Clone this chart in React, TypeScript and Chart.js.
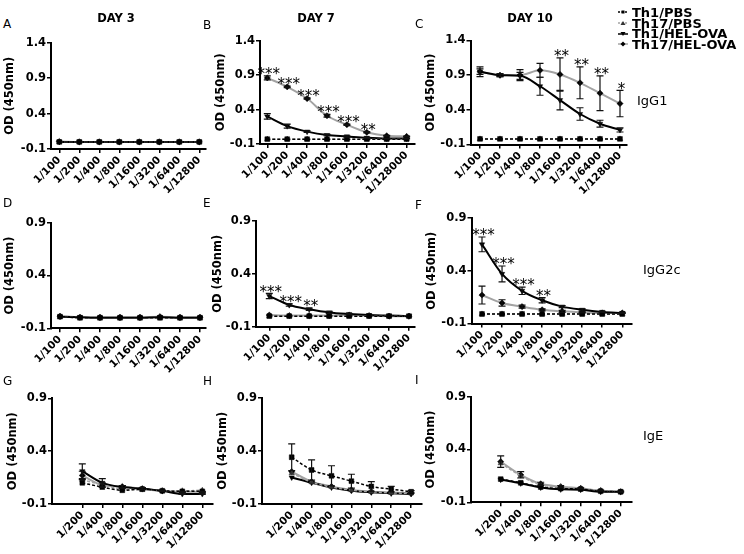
import React, { useEffect, useRef } from 'react';
import { Chart, registerables } from 'chart.js';
Chart.register(...registerables);

const FONT = '"DejaVu Sans", Verdana, sans-serif';

// ---- labels ----
const dilutions = ['1/100', '1/200', '1/400', '1/800', '1/1600', '1/3200', '1/6400', '1/12800'];
const dilutionsB = ['1/100', '1/200', '1/400', '1/800', '1/1600', '1/3200', '1/6400', '1/128000'];
const dilutionsIgE = ['1/200', '1/400', '1/800', '1/1600', '1/3200', '1/6400', '1/12800'];
const yTicksIgG1 = [-0.1, 0.4, 0.9, 1.4];
const yTicksOther = [-0.1, 0.4, 0.9];
const seriesNames = ['Th1/PBS', 'Th17/PBS', 'Th1/HEL-OVA', 'Th17/HEL-OVA'];
const dayTitles = ['DAY 3', 'DAY 7', 'DAY 10'];
const rowLabels = ['IgG1', 'IgG2c', 'IgE'];
const yTitle = 'OD (450nm)';

// ---- A: IgG1 day 3 ----
const aTh1PBS = [0.0, 0.0, 0.0, 0.0, 0.0, 0.0, 0.0, 0.0];
const aTh17PBS = [0.0, 0.0, 0.0, 0.0, 0.0, 0.0, 0.0, 0.0];
const aTh1HEL = [0.0, 0.0, 0.0, 0.0, 0.0, 0.0, 0.0, 0.0];
const aTh17HEL = [0.005, 0.0, 0.0, 0.0, 0.0, 0.0, 0.0, 0.0];

// ---- B: IgG1 day 7 ----
const bTh1PBS = [-0.03, -0.03, -0.03, -0.03, -0.03, -0.03, -0.03, -0.03];
const bTh17PBS = [-0.03, -0.03, -0.03, -0.03, -0.03, -0.03, -0.03, -0.03];
const bTh1HEL = [0.3, 0.16, 0.08, 0.03, 0.01, -0.01, -0.02, -0.02];
const bTh1HELErr = [0.04, 0.03, 0.01, 0.01, 0.01, 0.005, 0.005, 0.005];
const bTh17HEL = [0.86, 0.73, 0.56, 0.31, 0.18, 0.07, 0.02, 0.01];
const bTh17HELErr = [0.03, 0.01, 0.01, 0.02, 0.01, 0.01, 0.005, 0.005];
const bStars = ['***', '***', '***', '***', '***', '**', '', ''];

// ---- C: IgG1 day 10 ----
const cTh1PBS = [-0.02, -0.02, -0.02, -0.02, -0.02, -0.02, -0.02, -0.02];
const cTh17PBS = [-0.02, -0.02, -0.02, -0.02, -0.02, -0.02, -0.02, -0.02];
const cTh1HEL = [0.95, 0.9, 0.89, 0.74, 0.54, 0.34, 0.2, 0.11];
const cTh1HELErr = [0.04, 0.02, 0.05, 0.13, 0.14, 0.09, 0.05, 0.03];
const cTh17HEL = [0.95, 0.9, 0.9, 0.97, 0.91, 0.79, 0.64, 0.49];
const cTh17HELErr = [0.07, 0.02, 0.08, 0.1, 0.24, 0.23, 0.25, 0.19];
const cStars = ['', '', '', '', '**', '**', '**', '*'];

// ---- D: IgG2c day 3 ----
const dTh1PBS = [0.01, 0.0, 0.0, 0.0, 0.0, 0.0, 0.0, 0.0];
const dTh17PBS = [0.01, 0.0, 0.0, 0.0, 0.0, 0.0, 0.0, 0.0];
const dTh1HEL = [0.01, 0.005, 0.0, 0.0, 0.0, 0.005, 0.0, 0.0];
const dTh17HEL = [0.015, 0.005, 0.005, 0.005, 0.005, 0.01, 0.005, 0.005];

// ---- E: IgG2c day 7 ----
const eTh1PBS = [0.0, 0.0, 0.0, 0.0, 0.0, 0.0, 0.0, 0.0];
const eTh17PBS = [0.0, 0.0, 0.0, 0.0, 0.0, 0.0, 0.0, 0.0];
const eTh1HEL = [0.19, 0.105, 0.065, 0.035, 0.02, 0.01, 0.005, 0.0];
const eTh1HELErr = [0.025, 0.01, 0.01, 0.01, 0.005, 0.0, 0.0, 0.0];
const eTh17HEL = [0.01, 0.005, 0.005, 0.005, 0.01, 0.005, 0.0, 0.0];
const eStars = ['***', '***', '**', '', '', '', '', ''];

// ---- F: IgG2c day 10 ----
const fTh1PBS = [-0.01, -0.01, -0.01, -0.01, -0.01, -0.01, -0.01, -0.01];
const fTh17PBS = [-0.01, -0.01, -0.01, -0.01, -0.01, -0.01, -0.01, -0.01];
const fTh1HEL = [0.65, 0.37, 0.21, 0.12, 0.06, 0.03, 0.01, 0.0];
const fTh1HELErr = [0.07, 0.075, 0.035, 0.025, 0.01, 0.01, 0.005, 0.005];
const fTh17HEL = [0.17, 0.095, 0.06, 0.03, 0.015, 0.005, 0.0, 0.0];
const fTh17HELErr = [0.085, 0.03, 0.015, 0.01, 0.01, 0.005, 0.0, 0.0];
const fStars = ['***', '***', '***', '**', '', '', '', ''];

// ---- G: IgE day 3 ----
const gTh1PBS = [0.1, 0.06, 0.03, 0.04, 0.025, 0.02, 0.02];
const gTh17PBS = [0.13, 0.08, 0.04, 0.035, 0.025, 0.025, 0.03];
const gTh1HEL = [0.21, 0.1, 0.06, 0.045, 0.025, -0.005, -0.005];
const gTh1HELErr = [0.07, 0.04, 0.015, 0.01, 0.005, 0.005, 0.005];
const gTh17HEL = [0.17, 0.08, 0.065, 0.045, 0.025, 0.015, 0.015];
const gTh17HELErr = [0.04, 0.02, 0.01, 0.01, 0.005, 0.005, 0.005];

// ---- H: IgE day 7 ----
const hTh1PBS = [0.34, 0.22, 0.165, 0.115, 0.065, 0.04, 0.015];
const hTh1PBSErr = [0.125, 0.095, 0.095, 0.065, 0.045, 0.025, 0.01];
const hTh17PBS = [0.19, 0.105, 0.06, 0.03, 0.015, 0.005, 0.0];
const hTh1HEL = [0.15, 0.1, 0.055, 0.025, 0.01, 0.0, -0.005];
const hTh17HEL = [0.205, 0.11, 0.065, 0.032, 0.016, 0.008, 0.0];

// ---- I: IgE day 10 ----
const iTh1PBS = [0.12, 0.085, 0.045, 0.03, 0.025, 0.005, 0.0];
const iTh17PBS = [0.27, 0.15, 0.065, 0.045, 0.03, 0.01, 0.0];
const iTh1HEL = [0.115, 0.08, 0.04, 0.023, 0.02, 0.0, 0.0];
const iTh17HEL = [0.285, 0.16, 0.075, 0.048, 0.032, 0.01, 0.0];
const iTh17HELErr = [0.055, 0.03, 0.015, 0.01, 0.005, 0.005, 0.005];

const panels = [
  { letter: 'A', labels: dilutions, yTicks: yTicksIgG1, series: [aTh1PBS, aTh17PBS, aTh1HEL, aTh17HEL], errors: [null, null, null, null], stars: null },
  { letter: 'B', labels: dilutionsB, yTicks: yTicksIgG1, series: [bTh1PBS, bTh17PBS, bTh1HEL, bTh17HEL], errors: [null, null, bTh1HELErr, bTh17HELErr], stars: bStars },
  { letter: 'C', labels: dilutionsB, yTicks: yTicksIgG1, series: [cTh1PBS, cTh17PBS, cTh1HEL, cTh17HEL], errors: [null, null, cTh1HELErr, cTh17HELErr], stars: cStars },
  { letter: 'D', labels: dilutions, yTicks: yTicksOther, series: [dTh1PBS, dTh17PBS, dTh1HEL, dTh17HEL], errors: [null, null, null, null], stars: null },
  { letter: 'E', labels: dilutions, yTicks: yTicksOther, series: [eTh1PBS, eTh17PBS, eTh1HEL, eTh17HEL], errors: [null, null, eTh1HELErr, null], stars: eStars },
  { letter: 'F', labels: dilutions, yTicks: yTicksOther, series: [fTh1PBS, fTh17PBS, fTh1HEL, fTh17HEL], errors: [null, null, fTh1HELErr, fTh17HELErr], stars: fStars },
  { letter: 'G', labels: dilutionsIgE, yTicks: yTicksOther, series: [gTh1PBS, gTh17PBS, gTh1HEL, gTh17HEL], errors: [null, null, gTh1HELErr, gTh17HELErr], stars: null },
  { letter: 'H', labels: dilutionsIgE, yTicks: yTicksOther, series: [hTh1PBS, hTh17PBS, hTh1HEL, hTh17HEL], errors: [hTh1PBSErr, null, null, null], stars: null },
  { letter: 'I', labels: dilutionsIgE, yTicks: yTicksOther, series: [iTh1PBS, iTh17PBS, iTh1HEL, iTh17HEL], errors: [null, null, null, iTh17HELErr], stars: null },
];

// ---- layout (pixel geometry of each plot frame) ----
const LAYOUT = [
  { axisX: 51, right: 206, top: 42.7, bottom: 149, first: 59.3, step: 20, titleX: 10, lx: 3, ly: 24 },
  { axisX: 260, right: 415, top: 40.7, bottom: 144, first: 267.3, step: 19.9, titleX: 221, lx: 203, ly: 24.5 },
  { axisX: 470.5, right: 627, top: 40.5, bottom: 144.5, first: 480, step: 20, titleX: 431, lx: 415, ly: 24 },
  { axisX: 51, right: 206, top: 222.7, bottom: 328.3, first: 60, step: 20, titleX: 10, lx: 3, ly: 202.5 },
  { axisX: 256, right: 415, top: 221, bottom: 326.7, first: 269.3, step: 19.96, titleX: 217.5, lx: 203, ly: 202.5 },
  { axisX: 471.5, right: 631.7, top: 218, bottom: 323.5, first: 482, step: 20.04, titleX: 432, lx: 415, ly: 205 },
  { axisX: 52, right: 213, top: 398.3, bottom: 504, first: 82.3, step: 20, titleX: 12.5, lx: 3, ly: 381 },
  { axisX: 262, right: 421.7, top: 397.7, bottom: 504, first: 291.7, step: 19.9, titleX: 222.5, lx: 203, ly: 381 },
  { axisX: 471, right: 631.7, top: 396.7, bottom: 502.3, first: 500.7, step: 20, titleX: 431, lx: 415, ly: 380 },
];

const GRAY = '#a3a3a3';
const STYLES = [
  { line: '#000', dash: [3, 2], point: 'rect', pcolor: '#000', r: 3.4, w: 1.5, rot: 0 },
  { line: GRAY, dash: [3, 2], point: 'triangle', pcolor: '#333', r: 3.1, w: 1.5, rot: 0 },
  { line: '#000', dash: [], point: 'triangle', pcolor: '#000', r: 3.1, w: 2, rot: 180 },
  { line: GRAY, dash: [], point: 'rectRot', pcolor: '#000', r: 3.1, w: 2, rot: 0 },
];

const TITLE_FS = 11.5;
const PADT = 10;
const PADR = 14;
const BH = 62;

function PanelChart({ p, g }: { p: any; g: any }) {
  const ref = useRef<HTMLCanvasElement | null>(null);
  const left = Math.round(g.titleX - (TITLE_FS * 1.2) / 2);
  const LW = g.axisX - left;
  const top = Math.round(g.top - PADT);
  const padTop = g.top - top;
  const plotW = g.right - g.axisX;
  const W = Math.ceil(LW + plotW + PADR);
  const padRight = W - LW - plotW;
  const H = Math.ceil(padTop + (g.bottom - g.top) + BH);
  const bh = H - padTop - (g.bottom - g.top);

  useEffect(() => {
    const xmin = (g.axisX - g.first) / g.step;
    const xmax = (g.right - g.first) / g.step;
    const yMax = p.yTicks[p.yTicks.length - 1];
    const datasets = p.series.map((vals: number[], d: number) => {
      const s = STYLES[d];
      return {
        label: seriesNames[d],
        data: vals.map((v, i) => ({ x: i, y: v })),
        borderColor: s.line,
        borderWidth: s.w,
        borderDash: s.dash,
        pointStyle: s.point,
        pointRotation: s.rot,
        pointRadius: s.r,
        pointBackgroundColor: s.pcolor,
        pointBorderColor: s.pcolor,
        pointBorderWidth: 0.5,
        cubicInterpolationMode: 'monotone',
        fill: false,
      };
    });
    const errorBars = {
      id: 'errorBars',
      afterDatasetsDraw(chart: any) {
        const ctx = chart.ctx;
        const xs = chart.scales.x;
        const ys = chart.scales.y;
        ctx.save();
        ctx.strokeStyle = '#111';
        ctx.lineWidth = 1.2;
        p.errors.forEach((errs: number[] | null, d: number) => {
          if (!errs) return;
          p.series[d].forEach((v: number, i: number) => {
            const e = errs[i];
            if (!e) return;
            const x = xs.getPixelForValue(i);
            const y1 = ys.getPixelForValue(v + e);
            const y2 = ys.getPixelForValue(v - e);
            ctx.beginPath();
            ctx.moveTo(x, y1);
            ctx.lineTo(x, y2);
            ctx.moveTo(x - 3.5, y1);
            ctx.lineTo(x + 3.5, y1);
            ctx.moveTo(x - 3.5, y2);
            ctx.lineTo(x + 3.5, y2);
            ctx.stroke();
          });
        });
        if (p.stars) {
          ctx.fillStyle = '#000';
          ctx.font = '15px ' + FONT;
          ctx.textAlign = 'center';
          ctx.textBaseline = 'alphabetic';
          p.stars.forEach((txt: string, i: number) => {
            if (!txt) return;
            let topVal = -Infinity;
            p.series.forEach((vals: number[], d: number) => {
              const e = p.errors[d] ? p.errors[d][i] : 0;
              topVal = Math.max(topVal, vals[i] + e);
            });
            const x = xs.getPixelForValue(i) + 1.5;
            const yc = ys.getPixelForValue(topVal) - 5;
            ctx.fillText(txt, x, yc + 0.54 * 15);
          });
        }
        ctx.restore();
      },
    };
    const tickFont = { family: FONT, size: 10.5, weight: 'bold' as const };
    const chart = new Chart(ref.current as HTMLCanvasElement, {
      type: 'line',
      data: { datasets },
      plugins: [errorBars],
      options: {
        animation: false,
        responsive: false,
        maintainAspectRatio: false,
        layout: { padding: { left: 0, right: padRight, top: padTop, bottom: 0 } },
        plugins: { legend: { display: false }, tooltip: { enabled: false }, title: { display: false } },
        scales: {
          x: {
            type: 'linear',
            min: xmin,
            max: xmax,
            afterBuildTicks: (s: any) => {
              s.ticks = p.labels.map((_: string, i: number) => ({ value: i }));
            },
            afterFit: (s: any) => {
              s.height = bh;
            },
            ticks: {
              autoSkip: false,
              minRotation: 45,
              maxRotation: 45,
              padding: 1,
              color: '#000',
              font: tickFont,
              callback: (v: any) => p.labels[Math.round(v)] ?? '',
            },
            grid: { display: true, drawOnChartArea: false, drawTicks: true, tickLength: 4, color: '#000', lineWidth: 1.5 },
            border: { display: true, color: '#000', width: 2 },
          },
          y: {
            type: 'linear',
            min: -0.1,
            max: yMax,
            afterBuildTicks: (s: any) => {
              s.ticks = p.yTicks.map((v: number) => ({ value: v }));
            },
            afterFit: (s: any) => {
              s.width = LW;
            },
            ticks: {
              padding: 1,
              color: '#000',
              font: { family: FONT, size: 11.5, weight: 'bold' },
              callback: (v: any) => Number(v).toFixed(1),
            },
            grid: { display: true, drawOnChartArea: false, drawTicks: true, tickLength: 4, color: '#000', lineWidth: 1.5 },
            border: { display: true, color: '#000', width: 2 },
            title: { display: true, text: yTitle, color: '#000', padding: 0, font: { family: FONT, size: TITLE_FS, weight: 'bold' } },
          },
        },
      } as any,
    });
    return () => chart.destroy();
  }, []);

  return <canvas ref={ref} width={W} height={H} style={{ position: 'absolute', left, top, width: W, height: H }} />;
}

function Txt({ x, cy, fs, bold, center, children }: any) {
  return (
    <div
      style={{
        position: 'absolute',
        left: x,
        top: cy - 0.48 * fs,
        fontSize: fs,
        lineHeight: fs + 'px',
        fontFamily: FONT,
        fontWeight: bold ? 'bold' : 'normal',
        whiteSpace: 'nowrap',
        color: '#000',
        transform: center ? 'translateX(-50%)' : undefined,
      }}
    >
      {children}
    </div>
  );
}

function LegendSymbol({ d }: { d: number }) {
  const s = STYLES[d];
  const marker =
    d === 0 ? <rect x={3.5} y={3.5} width={3} height={3} fill="#000" /> :
    d === 1 ? <polygon points="5,3 7.5,7 2.5,7" fill="#333" /> :
    d === 2 ? <polygon points="2.5,3 7.5,3 5,7" fill="#000" /> :
    <polygon points="5,2.5 7.5,5 5,7.5 2.5,5" fill="#000" />;
  return (
    <svg width={10} height={10} style={{ position: 'absolute', left: 0, top: 0 }}>
      <line x1={0} y1={5} x2={10} y2={5} stroke={s.line} strokeWidth={1.5} strokeDasharray={s.dash.length ? '2 1.5' : undefined} />
      {marker}
    </svg>
  );
}

const LEGEND_ROWS = [12, 22.8, 33.6, 44.4];
const DAY_X = [116, 316, 530];
const ROW_LABEL_POS = [
  { x: 637, cy: 100 },
  { x: 643, cy: 269 },
  { x: 643, cy: 435 },
];

export default function App() {
  useEffect(() => {
    document.body.style.margin = '0';
  }, []);
  return (
    <div style={{ position: 'absolute', left: 0, top: 0, width: 744, height: 554, background: '#fff', overflow: 'hidden' }}>
      {panels.map((p, k) => (
        <PanelChart key={p.letter} p={p} g={LAYOUT[k]} />
      ))}
      {panels.map((p, k) => (
        <Txt key={'l' + p.letter} x={LAYOUT[k].lx} cy={LAYOUT[k].ly} fs={12}>
          {p.letter}
        </Txt>
      ))}
      {dayTitles.map((t, k) => (
        <Txt key={t} x={DAY_X[k]} cy={19} fs={11.5} bold center>
          {t}
        </Txt>
      ))}
      {rowLabels.map((t, k) => (
        <Txt key={t} x={ROW_LABEL_POS[k].x} cy={ROW_LABEL_POS[k].cy} fs={13}>
          {t}
        </Txt>
      ))}
      {seriesNames.map((n, d) => (
        <div key={n} style={{ position: 'absolute', left: 618, top: LEGEND_ROWS[d] - 5, width: 10, height: 10 }}>
          <LegendSymbol d={d} />
        </div>
      ))}
      {seriesNames.map((n, d) => (
        <Txt key={'t' + n} x={632} cy={LEGEND_ROWS[d]} fs={13} bold>
          {n}
        </Txt>
      ))}
    </div>
  );
}
